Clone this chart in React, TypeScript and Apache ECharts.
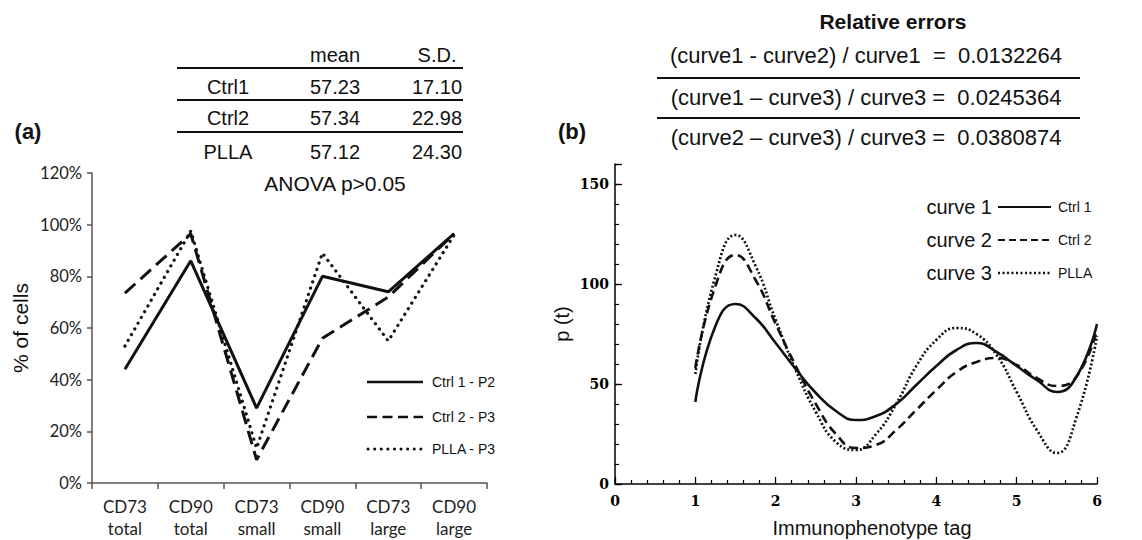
import React, { useEffect, useRef } from 'react';
import * as echarts from 'echarts';

// ---- Panel (a) data ----
const categories = ['CD73\ntotal', 'CD90\ntotal', 'CD73\nsmall', 'CD90\nsmall', 'CD73\nlarge', 'CD90\nlarge'];
const ctrl1P2 = [44, 86, 29, 80, 74, 96.5];
const ctrl2P3 = [73.5, 96.5, 9, 56, 72, 96.5];
const pllaP3 = [53, 97.5, 13.5, 89, 55, 96];
const legendA = ['Ctrl 1 - P2', 'Ctrl 2 - P3', 'PLLA - P3'];

// ---- Table ----
const tableHeader = ['mean', 'S.D.'];
const tableRows = ['Ctrl1', 'Ctrl2', 'PLLA'];
const tableMean = ['57.23', '57.34', '57.12'];
const tableSD = ['17.10', '22.98', '24.30'];
const anovaText = 'ANOVA p>0.05';

// ---- Panel (b) data ----
const tagX = [1, 1.25, 1.5, 1.75, 2, 2.25, 2.5, 2.75, 3, 3.25, 3.5, 3.75, 4, 4.25, 4.5, 4.75, 5, 5.25, 5.5, 5.75, 6];
const curve1 = [41, 79, 90, 83, 70.5, 57.5, 45.5, 36.5, 32, 34, 40, 49.5, 59, 67, 70.5, 66, 59, 52, 46, 54, 80];
const curve2 = [58, 99, 114.5, 102, 80, 59, 40, 25, 18, 19.5, 27, 37, 47, 56, 61, 63, 59.5, 53, 49, 54, 77];
const curve3 = [55, 104, 124.5, 109, 82, 57, 36, 21, 17, 25, 40, 59, 72, 78, 75, 64.5, 46, 27, 15.5, 34, 74];
const curveNames = ['curve 1', 'curve 2', 'curve 3'];
const curveGroups = ['Ctrl 1', 'Ctrl 2', 'PLLA'];
const relErrTitle = 'Relative errors';
const relErrExpr = ['(curve1 - curve2) / curve1  =  ', '(curve1 \u2013 curve3) / curve3 =  ', '(curve2 \u2013 curve3) / curve3 =  '];
const relErrValues = ['0.0132264', '0.0245364', '0.0380874'];

const SANS = 'Liberation Sans, Arial, sans-serif';
const CAL = 'Lato, sans-serif';
const SERIF = 'DejaVu Serif, serif';

export default function App() {
  const ref = useRef<HTMLDivElement>(null);
  useEffect(() => {
    if (!ref.current) return;
    const chart = echarts.init(ref.current, undefined, { renderer: 'svg' });

    const pair = (ys: number[]) => ys.map((y, i) => [tagX[i], y]);
    const txt = (x: number, y: number, text: string, size: number, opts: any = {}) => ({
      type: 'text', x, y,
      style: { text, fontSize: size, fontFamily: opts.family || SANS, fontWeight: opts.weight || 'normal', fill: '#111', align: opts.align || 'center', verticalAlign: 'middle' },
    });
    const hline = (x1: number, x2: number, y: number, w: number, dash?: any, cap?: string) => ({
      type: 'line', shape: { x1, y1: y, x2, y2: y },
      style: { stroke: '#111', lineWidth: w, lineDash: dash, lineCap: cap || 'butt' },
    });

    const graphics: any[] = [];
    // panel labels
    graphics.push(txt(28, 131, '(a)', 22, { weight: 'bold' }));
    graphics.push(txt(572, 131, '(b)', 22, { weight: 'bold' }));
    // table
    graphics.push(txt(335, 55, tableHeader[0], 20));
    graphics.push(txt(437, 55, tableHeader[1], 20));
    const rowY = [87, 118, 152];
    tableRows.forEach((r, i) => {
      graphics.push(txt(228, rowY[i], r, 20));
      graphics.push(txt(335, rowY[i], tableMean[i], 20));
      graphics.push(txt(437, rowY[i], tableSD[i], 20));
    });
    [68, 100, 132].forEach((y) => graphics.push(hline(177, 463, y, 2)));
    graphics.push(txt(335, 183, anovaText, 21));
    // left legend
    const legAY = [382, 417, 449];
    graphics.push(hline(367, 423, legAY[0], 2.5));
    graphics.push(hline(367, 423, legAY[1], 2.5, [10, 5.5]));
    graphics.push(hline(368, 423, legAY[2], 3, [0.1, 6.5], 'round'));
    legendA.forEach((l, i) => graphics.push(txt(432, legAY[i], l, 14, { align: 'left' })));
    // relative errors
    graphics.push(txt(893, 21, relErrTitle, 21, { weight: 'bold' }));
    const reY = [55, 97, 137];
    relErrExpr.forEach((e, i) => graphics.push(txt(866, reY[i], e + relErrValues[i], 22)));
    graphics.push(hline(657, 1080, 78, 2));
    graphics.push(hline(657, 1080, 118, 2));
    // right legend
    const legBY = [207, 240, 273];
    curveNames.forEach((c, i) => {
      graphics.push(txt(992, legBY[i], c, 20, { align: 'right' }));
      graphics.push(txt(1058, legBY[i], curveGroups[i], 14, { align: 'left' }));
    });
    graphics.push(hline(998, 1051, legBY[0], 2));
    graphics.push(hline(998, 1051, legBY[1], 2, [7, 4]));
    graphics.push(hline(998, 1051, legBY[2], 2.5, [2, 2.5]));
    // right x-axis name
    graphics.push(txt(872, 528, 'Immunophenotype tag', 20));

    const option: any = {
      animation: false,
      backgroundColor: '#fff',
      grid: [
        { left: 92, top: 173, width: 395, height: 310 },
        { left: 615, top: 164, width: 482, height: 320 },
      ],
      xAxis: [
        {
          type: 'category', gridIndex: 0, data: categories, boundaryGap: true,
          axisLine: { lineStyle: { color: '#555', width: 1.5 } },
          axisTick: { show: true, length: 6, alignWithLabel: false, lineStyle: { color: '#555', width: 1.5 } },
          axisLabel: { interval: 0, fontFamily: CAL, fontSize: 17, lineHeight: 22, color: '#222', margin: 12 },
          splitLine: { show: false },
        },
        {
          type: 'value', gridIndex: 1, min: 0, max: 6, interval: 1,
          axisLine: { lineStyle: { color: '#000', width: 1.5 } },
          axisTick: { inside: true, length: 7, lineStyle: { color: '#000', width: 1.3 } },
          minorTick: { show: true, splitNumber: 5, length: 4, lineStyle: { color: '#000', width: 1.2 } },
          axisLabel: { fontFamily: SERIF, fontWeight: 'bold', fontSize: 14, color: '#000', margin: 10 },
          splitLine: { show: false },
        },
      ],
      yAxis: [
        {
          type: 'value', gridIndex: 0, min: 0, max: 120, interval: 20,
          axisLine: { show: true, lineStyle: { color: '#555', width: 1.5 } },
          axisTick: { show: true, length: 5, lineStyle: { color: '#555', width: 1.5 } },
          axisLabel: { formatter: '{value}%', fontFamily: CAL, fontSize: 16.5, color: '#222', margin: 10 },
          splitLine: { show: false },
          name: '% of cells', nameLocation: 'middle', nameGap: 61,
          nameTextStyle: { fontFamily: SANS, fontSize: 21, color: '#111' },
        },
        {
          type: 'value', gridIndex: 1, min: 0, max: 160, interval: 10, position: 'left',
          axisLine: { show: true, lineStyle: { color: '#000', width: 1.5 } },
          axisTick: { show: true, inside: true, length: 4, lineStyle: { color: '#000', width: 1.2 } },
          axisLabel: { show: false },
          splitLine: { show: false },
        },
        {
          type: 'value', gridIndex: 1, min: 0, max: 160, interval: 50, position: 'left',
          axisLine: { show: false },
          axisTick: { show: true, inside: true, length: 7, lineStyle: { color: '#000', width: 1.3 } },
          axisLabel: {
            formatter: (v: number) => (v % 50 === 0 ? String(v) : ''),
            fontFamily: SERIF, fontWeight: 'bold', fontSize: 14, color: '#000', margin: 6,
          },
          splitLine: { show: false },
          name: 'p (t)', nameLocation: 'middle', nameGap: 43,
          nameTextStyle: { fontFamily: SANS, fontSize: 20, color: '#111' },
        },
      ],
      series: [
        { type: 'line', xAxisIndex: 0, yAxisIndex: 0, data: ctrl1P2, showSymbol: false, lineStyle: { color: '#111', width: 3 } },
        { type: 'line', xAxisIndex: 0, yAxisIndex: 0, data: ctrl2P3, showSymbol: false, lineStyle: { color: '#111', width: 3, type: [14, 7] } },
        { type: 'line', xAxisIndex: 0, yAxisIndex: 0, data: pllaP3, showSymbol: false, lineStyle: { color: '#111', width: 3.2, type: [0.1, 6.5], cap: 'round' } },
        { type: 'line', xAxisIndex: 1, yAxisIndex: 1, data: pair(curve1), smooth: 0.5, showSymbol: false, lineStyle: { color: '#111', width: 2.6 } },
        { type: 'line', xAxisIndex: 1, yAxisIndex: 1, data: pair(curve2), smooth: 0.5, showSymbol: false, lineStyle: { color: '#111', width: 2.6, type: [9, 5] } },
        { type: 'line', xAxisIndex: 1, yAxisIndex: 1, data: pair(curve3), smooth: 0.5, showSymbol: false, lineStyle: { color: '#111', width: 2.7, type: [2, 2.2] } },
      ],
      graphic: graphics,
    };
    chart.setOption(option);
    return () => chart.dispose();
  }, []);
  return <div ref={ref} style={{ width: 1142, height: 540, position: 'absolute', left: 0, top: 0 }} />;
}
